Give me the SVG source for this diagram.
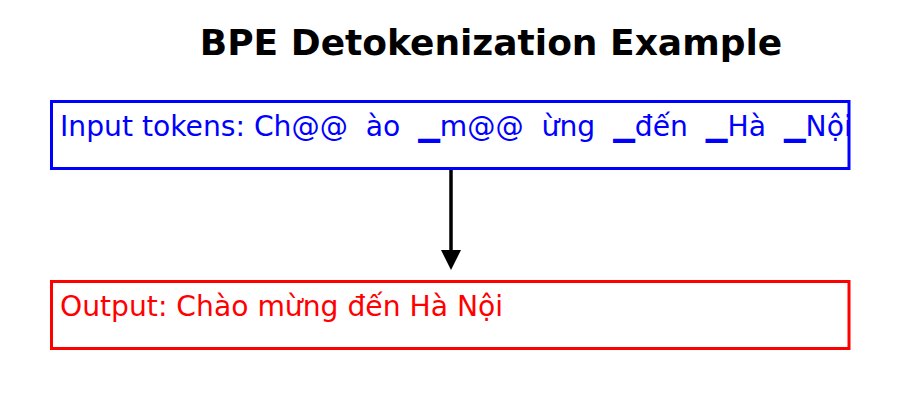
<svg xmlns="http://www.w3.org/2000/svg" width="900" height="400" viewBox="0 0 900 400">
  <defs>
    <style>
      .title { font-family: "DejaVu Sans", sans-serif; font-weight: bold; font-size: 36px; fill: #000; }
      .label { font-family: "DejaVu Sans", sans-serif; font-size: 28.2px; white-space: pre; }
      .box { fill: #fff; stroke-width: 3; }
    </style>
  </defs>
  <rect width="900" height="400" fill="#fff"/>
  <text class="title" x="491" y="55" text-anchor="middle">BPE Detokenization Example</text>
  <g id="input">
    <rect class="box" x="51.5" y="101.5" width="797.5" height="67" stroke="#0000ff"/>
    <text class="label" x="60" y="136" fill="#0000ff" xml:space="preserve">Input tokens: Ch@@  ào  ▁m@@  ừng  ▁đến  ▁Hà  ▁Nội</text>
  </g>
  <g id="output">
    <rect class="box" x="51.5" y="281.5" width="797.5" height="67" stroke="#ff0000"/>
    <text class="label" x="60" y="316" fill="#ff0000">Output: Chào mừng đến Hà Nội</text>
  </g>
  <g id="connectors">
    <line x1="451" y1="170" x2="451" y2="252" stroke="#000" stroke-width="3.5"/>
    <path d="M441,250 L461,250 L451,270 Z" fill="#000"/>
  </g>
</svg>
